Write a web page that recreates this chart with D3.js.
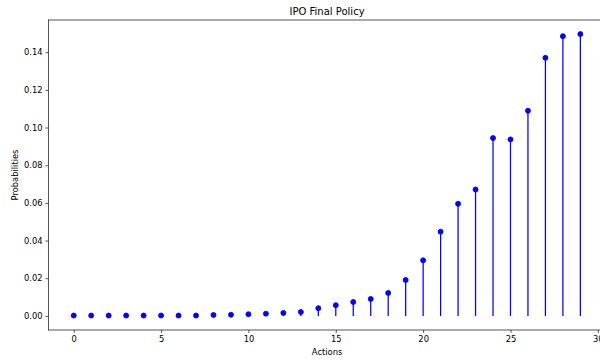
<!DOCTYPE html>
<html>
<head>
<meta charset="utf-8">
<script src="https://cdn.jsdelivr.net/npm/d3@7"></script>
<style>
  html, body { margin: 0; padding: 0; background: #fff; }
  svg { display: block; font-family: "DejaVu Sans", sans-serif; }
</style>
</head>
<body>
<svg id="chart" width="600" height="362"></svg>
<script>
// Action indices and their final policy probabilities
const actions = d3.range(30);
const probabilities = [
  0.0002, 0.0002, 0.0002, 0.0002, 0.0002, 0.0002, 0.0002, 0.0002,
  0.0005, 0.0006, 0.0009, 0.0012, 0.0016, 0.0021, 0.0041, 0.0057,
  0.0074, 0.0090, 0.0122, 0.0191, 0.0295, 0.0447, 0.0595, 0.0671,
  0.0944, 0.0937, 0.1089, 0.1370, 0.1485, 0.1496
];
const xTicks = [0, 5, 10, 15, 20, 25, 30];
const yTicks = [0.00, 0.02, 0.04, 0.06, 0.08, 0.10, 0.12, 0.14];

const pt = 60 / 72; // points to pixels
const svg = d3.select("#chart");
const plot = { left: 48.4, top: 20, right: 605.7, bottom: 330 };

const xSpan = d3.max(actions) - d3.min(actions);
const x = d3.scaleLinear()
  .domain([d3.min(actions) - 0.05 * xSpan, d3.max(actions) + 0.05 * xSpan])
  .range([plot.left, plot.right]);
const yMax = d3.max(probabilities);
const y = d3.scaleLinear()
  .domain([-0.05 * yMax, 1.05 * yMax])
  .range([plot.bottom, plot.top]);

const fontSize = 10 * pt;

// Axes
const xAxis = svg.append("g")
  .attr("transform", `translate(0,${plot.bottom})`)
  .call(d3.axisBottom(x).tickValues(xTicks).tickFormat(d3.format("d"))
    .tickSize(3.5 * pt).tickPadding(3.5 * pt).tickSizeOuter(0));
const yAxis = svg.append("g")
  .attr("transform", `translate(${plot.left},0)`)
  .call(d3.axisLeft(y).tickValues(yTicks).tickFormat(d3.format(".2f"))
    .tickSize(3.5 * pt).tickPadding(3.5 * pt).tickSizeOuter(0));
[xAxis, yAxis].forEach(g => {
  g.select(".domain").remove();
  g.selectAll(".tick line").attr("stroke", "#000").attr("stroke-width", 0.8 * pt);
  g.selectAll(".tick text").attr("fill", "#000")
    .style("font-size", fontSize + "px").style("font-family", "DejaVu Sans, sans-serif");
});

// Frame
svg.append("rect")
  .attr("x", plot.left).attr("y", plot.top)
  .attr("width", plot.right - plot.left).attr("height", plot.bottom - plot.top)
  .attr("fill", "none").attr("stroke", "#000").attr("stroke-width", 0.8 * pt);

// Stems
const data = actions.map((a, i) => ({ a, p: probabilities[i] }));
svg.append("g").selectAll("line").data(data).join("line")
  .attr("x1", d => x(d.a)).attr("x2", d => x(d.a))
  .attr("y1", y(0)).attr("y2", d => y(d.p))
  .attr("stroke", "#0000ff").attr("stroke-width", 1.5 * pt);

// Markers (6pt circle with a 1pt edge)
svg.append("g").selectAll("circle").data(data).join("circle")
  .attr("cx", d => x(d.a)).attr("cy", d => y(d.p))
  .attr("r", 3 * pt).attr("fill", "#0000ff")
  .attr("stroke", "#0000ff").attr("stroke-width", 1 * pt);

// Title and axis labels
svg.append("text")
  .attr("x", (plot.left + plot.right) / 2).attr("y", plot.top - 5)
  .attr("text-anchor", "middle").style("font-size", 12 * pt + "px")
  .text("IPO Final Policy");
svg.append("text")
  .attr("x", (plot.left + plot.right) / 2).attr("y", 355)
  .attr("text-anchor", "middle").style("font-size", fontSize + "px")
  .text("Actions");
svg.append("text")
  .attr("transform", `translate(18,${(plot.top + plot.bottom) / 2}) rotate(-90)`)
  .attr("text-anchor", "middle").style("font-size", fontSize + "px")
  .text("Probabilities");
</script>
</body>
</html>
